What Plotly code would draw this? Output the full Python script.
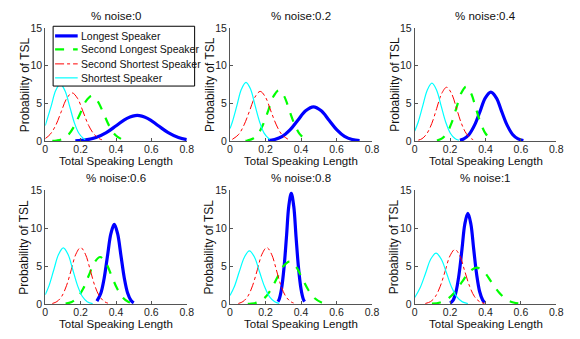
import plotly.graph_objects as go

# ---------------- data ----------------
titles = ["% noise:0", "% noise:0.2", "% noise:0.4", "% noise:0.6", "% noise:0.8", "% noise:1"]
series_names = ["Longest Speaker", "Second Longest Speaker", "Second Shortest Speaker", "Shortest Speaker"]
x_ticks = [0, 0.2, 0.4, 0.6, 0.8]
x_tick_labels = ["0", "0.2", "0.4", "0.6", "0.8"]
y_ticks = [0, 5, 10, 15]

# noise 0
p1_longest_x = [0.17, 0.229, 0.287, 0.345, 0.403, 0.462, 0.52, 0.578, 0.637, 0.695, 0.753, 0.8]
p1_longest_y = [0.04, 0.15, 0.46, 1.11, 2.07, 3.02, 3.42, 3.02, 2.07, 1.11, 0.46, 0.19]
p1_seclong_x = [0.04, 0.064, 0.097, 0.13, 0.163, 0.197, 0.23, 0.263, 0.296, 0.33, 0.363, 0.396, 0.43]
p1_seclong_y = [0.02, 0.07, 0.26, 0.81, 1.95, 3.64, 5.3, 6.0, 5.3, 3.64, 1.95, 0.81, 0.26]
p1_secshort_x = [0, 0.027, 0.059, 0.09, 0.121, 0.152, 0.183, 0.214, 0.245, 0.277, 0.308, 0.32]
p1_secshort_y = [0.33, 0.87, 2.08, 3.88, 5.65, 6.4, 5.65, 3.88, 2.08, 0.87, 0.28, 0.17]
p1_short_x = [0, 0.033, 0.059, 0.085, 0.111, 0.138, 0.164, 0.19, 0.216, 0.226]
p1_short_y = [2.05, 4.61, 6.71, 7.6, 6.71, 4.61, 2.47, 1.03, 0.33, 0.2]

# noise 0.2
p2_longest_x = [0.215, 0.251, 0.295, 0.338, 0.382, 0.426, 0.47, 0.514, 0.558, 0.602, 0.645, 0.689, 0.73]
p2_longest_y = [0.07, 0.2, 0.62, 1.48, 2.76, 4.02, 4.55, 4.02, 2.76, 1.48, 0.62, 0.2, 0.06]
p2_seclong_x = [0.087, 0.098, 0.127, 0.157, 0.186, 0.216, 0.245, 0.275, 0.305, 0.334, 0.364, 0.393, 0.42]
p2_seclong_y = [0.04, 0.075, 0.3, 0.91, 2.19, 4.09, 5.96, 6.75, 5.96, 4.09, 2.19, 0.91, 0.33]
p2_secshort_x = [0.013, 0.049, 0.079, 0.11, 0.14, 0.17, 0.2, 0.23, 0.261, 0.291, 0.326]
p2_secshort_y = [0.22, 0.89, 2.14, 4.0, 5.82, 6.6, 5.82, 4.0, 2.14, 0.89, 0.25]
p2_short_x = [0, 0.013, 0.039, 0.064, 0.09, 0.116, 0.141, 0.167, 0.192, 0.218, 0.225]
p2_short_y = [1.65, 2.53, 4.73, 6.88, 7.8, 6.88, 4.73, 2.53, 1.06, 0.34, 0.24]

# noise 0.4
p3_longest_x = [0.255, 0.277, 0.307, 0.338, 0.369, 0.399, 0.43, 0.461, 0.491, 0.522, 0.553, 0.584, 0.614]
p3_longest_y = [0.11, 0.29, 0.88, 2.11, 3.94, 5.74, 6.5, 5.74, 3.94, 2.11, 0.88, 0.29, 0.07]
p3_seclong_x = [0.125, 0.152, 0.179, 0.207, 0.235, 0.262, 0.29, 0.318, 0.345, 0.373, 0.401, 0.429, 0.45]
p3_seclong_y = [0.08, 0.32, 0.97, 2.34, 4.37, 6.35, 7.2, 6.35, 4.37, 2.34, 0.97, 0.32, 0.11]
p3_secshort_x = [0.02, 0.041, 0.068, 0.096, 0.124, 0.152, 0.18, 0.208, 0.236, 0.264, 0.292, 0.32, 0.33]
p3_secshort_y = [0.12, 0.31, 0.97, 2.32, 4.34, 6.31, 7.15, 6.31, 4.34, 2.32, 0.97, 0.31, 0.19]
p3_short_x = [0, 0.019, 0.045, 0.071, 0.097, 0.123, 0.149, 0.175, 0.201, 0.227, 0.25]
p3_short_y = [1.34, 2.5, 4.67, 6.8, 7.7, 6.8, 4.67, 2.5, 1.04, 0.34, 0.1]

# noise 0.6
p4_longest_x = [0.292, 0.314, 0.333, 0.352, 0.371, 0.39, 0.409, 0.428, 0.447, 0.466, 0.485, 0.5]
p4_longest_y = [0.38, 1.42, 3.41, 6.37, 9.27, 10.5, 9.27, 6.37, 3.41, 1.42, 0.46, 0.16]
p4_seclong_x = [0.115, 0.149, 0.181, 0.214, 0.246, 0.278, 0.31, 0.342, 0.374, 0.407, 0.439, 0.471, 0.497]
p4_seclong_y = [0.06, 0.27, 0.84, 2.01, 3.76, 5.47, 6.2, 5.47, 3.76, 2.01, 0.84, 0.27, 0.09]
p4_secshort_x = [0.04, 0.066, 0.093, 0.12, 0.147, 0.173, 0.2, 0.227, 0.254, 0.28, 0.307, 0.334, 0.354]
p4_secshort_y = [0.08, 0.33, 1.01, 2.42, 4.52, 6.57, 7.45, 6.57, 4.52, 2.42, 1.01, 0.33, 0.12]
p4_short_x = [0, 0.021, 0.048, 0.075, 0.102, 0.129, 0.156, 0.183, 0.21, 0.237, 0.268]
p4_short_y = [1.24, 2.4, 4.49, 6.53, 7.4, 6.53, 4.49, 2.4, 1.0, 0.32, 0.06]

# noise 0.8
p5_longest_x = [0.27, 0.277, 0.29, 0.304, 0.318, 0.331, 0.345, 0.359, 0.372, 0.386, 0.4, 0.413, 0.42]
p5_longest_y = [0.33, 0.64, 1.98, 4.74, 8.85, 12.88, 14.6, 12.88, 8.85, 4.74, 1.98, 0.64, 0.33]
p5_seclong_x = [0.1, 0.121, 0.157, 0.193, 0.228, 0.264, 0.299, 0.335, 0.371, 0.406, 0.442, 0.477, 0.513, 0.55]
p5_seclong_y = [0.02, 0.06, 0.25, 0.76, 1.82, 3.4, 4.94, 5.6, 4.94, 3.4, 1.82, 0.76, 0.25, 0.06]
p5_secshort_x = [0.047, 0.073, 0.1, 0.127, 0.154, 0.18, 0.207, 0.234, 0.261, 0.287, 0.314, 0.341, 0.358]
p5_secshort_y = [0.08, 0.33, 1.01, 2.42, 4.52, 6.57, 7.45, 6.57, 4.52, 2.42, 1.01, 0.33, 0.14]
p5_short_x = [0, 0.024, 0.052, 0.081, 0.109, 0.138, 0.166, 0.195, 0.223, 0.252, 0.277]
p5_short_y = [1.13, 2.27, 4.25, 6.18, 7.0, 6.18, 4.25, 2.27, 0.95, 0.31, 0.09]

# noise 1
p6_longest_x = [0.2, 0.217, 0.233, 0.25, 0.267, 0.283, 0.3, 0.317, 0.333, 0.35, 0.367, 0.384, 0.395]
p6_longest_y = [0.13, 0.52, 1.62, 3.88, 7.25, 10.55, 11.95, 10.55, 7.25, 3.88, 1.62, 0.52, 0.21]
p6_seclong_x = [0.097, 0.143, 0.184, 0.226, 0.267, 0.309, 0.35, 0.392, 0.433, 0.475, 0.516, 0.558, 0.6]
p6_seclong_y = [0.05, 0.21, 0.65, 1.56, 2.91, 4.24, 4.8, 4.24, 2.91, 1.56, 0.65, 0.21, 0.05]
p6_secshort_x = [0.06, 0.089, 0.116, 0.144, 0.172, 0.199, 0.227, 0.255, 0.282, 0.31, 0.338, 0.366, 0.394]
p6_secshort_y = [0.08, 0.32, 0.97, 2.34, 4.37, 6.35, 7.2, 6.35, 4.37, 2.34, 0.97, 0.32, 0.08]
p6_short_x = [0, 0.031, 0.061, 0.09, 0.12, 0.15, 0.18, 0.209, 0.239, 0.269, 0.3]
p6_short_y = [0.87, 2.18, 4.06, 5.91, 6.7, 5.91, 4.06, 2.18, 0.91, 0.29, 0.07]

panels = [
    [(p1_longest_x, p1_longest_y), (p1_seclong_x, p1_seclong_y), (p1_secshort_x, p1_secshort_y), (p1_short_x, p1_short_y)],
    [(p2_longest_x, p2_longest_y), (p2_seclong_x, p2_seclong_y), (p2_secshort_x, p2_secshort_y), (p2_short_x, p2_short_y)],
    [(p3_longest_x, p3_longest_y), (p3_seclong_x, p3_seclong_y), (p3_secshort_x, p3_secshort_y), (p3_short_x, p3_short_y)],
    [(p4_longest_x, p4_longest_y), (p4_seclong_x, p4_seclong_y), (p4_secshort_x, p4_secshort_y), (p4_short_x, p4_short_y)],
    [(p5_longest_x, p5_longest_y), (p5_seclong_x, p5_seclong_y), (p5_secshort_x, p5_secshort_y), (p5_short_x, p5_short_y)],
    [(p6_longest_x, p6_longest_y), (p6_seclong_x, p6_seclong_y), (p6_secshort_x, p6_secshort_y), (p6_short_x, p6_short_y)],
]

# ---------------- style ----------------
W, H = 580, 339
FONT = "Liberation Sans, Arial, Helvetica, sans-serif"
styles = [
    dict(color="#0000FF", width=3.2, dash="solid"),
    dict(color="#00FF00", width=2.2, dash="dash"),
    dict(color="#FF0000", width=1.0, dash="dashdot"),
    dict(color="#00FFFF", width=1.2, dash="solid"),
]
col_px = [(43, 187), (231, 375.5), (419, 563)]
row_px = [(23, 140), (191, 309)]


def px(x):
    return x / W


def py(y):
    return 1 - y / H


fig = go.Figure()
annotations = []
shapes = []
for i, series in enumerate(panels):
    r, c = divmod(i, 3)
    n = "" if i == 0 else str(i + 1)
    for j, (xs, ys) in enumerate(series):
        fig.add_trace(go.Scatter(
            x=xs, y=ys, mode="lines", name=series_names[j],
            line=dict(shape="spline", smoothing=1.0, **styles[j]),
            showlegend=False, xaxis="x" + n, yaxis="y" + n,
        ))
    x0, x1 = col_px[c]
    y0, y1 = row_px[r]
    axstyle = dict(showgrid=False, zeroline=False, showline=True, linecolor="#555555",
                   linewidth=1, ticks="inside", ticklen=3, tickcolor="#555555",
                   tickfont=dict(family=FONT, size=10.5, color="#222222"))
    fig.layout["xaxis" + n] = dict(domain=[px(x0), px(x1)], range=[0, 0.8], tickvals=x_ticks,
                                   ticktext=x_tick_labels, anchor="y" + n,
                                   ticklabelstandoff=-2, **axstyle)
    fig.layout["yaxis" + n] = dict(domain=[py(y1), py(y0)], range=[0, 15], tickvals=y_ticks,
                                   anchor="x" + n, **axstyle)
    xc = px((x0 + x1) / 2)
    annotations.append(dict(text=titles[i], x=xc, y=py(y0 - 12.5), xref="paper", yref="paper",
                            xanchor="center", yanchor="middle", showarrow=False,
                            font=dict(family=FONT, size=11.5, color="#111111")))
    annotations.append(dict(text="Total Speaking Length", x=xc, y=py(y1 + 21), xref="paper",
                            yref="paper", xanchor="center", yanchor="middle", showarrow=False,
                            font=dict(family=FONT, size=11.5, color="#111111")))
    annotations.append(dict(text="Probability of TSL", x=px(x0 - 21), y=py((y0 + y1) / 2),
                            xref="paper", yref="paper", xanchor="center", yanchor="middle",
                            showarrow=False, textangle=-90,
                            font=dict(family=FONT, size=12, color="#111111")))

# ---------------- legend (drawn in the first panel) ----------------
leg_box = (51, 21, 195, 83)
leg_rows = [31, 45, 60, 74.5]
shapes.append(dict(type="rect", xref="paper", yref="paper", layer="above",
                   x0=px(leg_box[0]), x1=px(leg_box[2]), y0=py(leg_box[3]), y1=py(leg_box[1]),
                   fillcolor="white", line=dict(color="black", width=1)))
for j, yy in enumerate(leg_rows):
    st = styles[j]
    shapes.append(dict(type="line", xref="paper", yref="paper", layer="above",
                       x0=px(53), x1=px(76), y0=py(yy), y1=py(yy),
                       line=dict(color=st["color"], width=st["width"], dash=st["dash"])))
    annotations.append(dict(text=series_names[j], x=px(77.5), y=py(yy), xref="paper", yref="paper",
                            xanchor="left", yanchor="middle", showarrow=False,
                            font=dict(family=FONT, size=10.5, color="#111111")))

fig.update_layout(
    width=W, height=H, margin=dict(l=0, r=0, t=0, b=0),
    paper_bgcolor="white", plot_bgcolor="white",
    annotations=annotations, shapes=shapes, showlegend=False,
)
fig.write_html("out.html", config={"displayModeBar": False},
               post_script="document.body.style.margin='0';")
